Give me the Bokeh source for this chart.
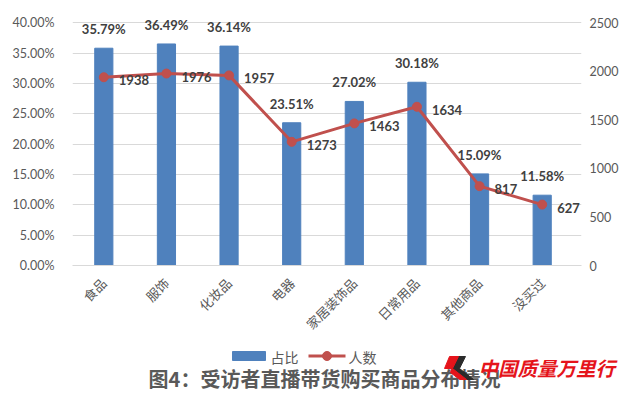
import math
from bokeh.plotting import figure
from bokeh.layouts import column, row
from bokeh.models import (Range1d, LinearAxis, PrintfTickFormatter, FixedTicker,
                          ColumnDataSource)
from bokeh.core.properties import value
from bokeh.embed import file_html
from bokeh.resources import INLINE

categories = ["食品", "服饰", "化妆品", "电器", "家居装饰品", "日常用品", "其他商品", "没买过"]
share_pct = [35.79, 36.49, 36.14, 23.51, 27.02, 30.18, 15.09, 11.58]
people = [1938, 1976, 1957, 1273, 1463, 1634, 817, 627]
left_ticks = [0, 5, 10, 15, 20, 25, 30, 35, 40]
right_ticks = [0, 500, 1000, 1500, 2000, 2500]
series_names = ["占比", "人数"]
chart_title = "图4：受访者直播带货购买商品分布情况"
watermark = "中国质量万里行"

share_labels = ["%.2f%%" % v for v in share_pct]
people_labels = [str(v) for v in people]
idx = list(range(len(categories)))

BLUE = "#4F81BD"
RED = "#C0504D"
GRID = "#D9D9D9"
TXT = "#595959"
LBL = "#404040"
WMRED = "#E5141B"
NUMFONT = "Lato"
CJK = "Noto Sans CJK SC"

# layout constants (pixels)
CAT_W = 62.625          # width of one category slot
PLOT_H = 243            # height from 0 to top tick
HEAD = 1.05             # headroom above the top tick (room for labels)
RIGHT_EXTRA = 8         # room on the right for the last value label
TOP = 10
BOTTOM = 79

src = ColumnDataSource(dict(x=idx, pct=share_pct, ppl=people,
                            pl=share_labels, nl=people_labels))

n = len(categories)
frame_h = round(PLOT_H * HEAD)
frame_w = round(CAT_W * n + RIGHT_EXTRA)
p_h = TOP + frame_h + BOTTOM
p = figure(width=619, height=p_h,
           x_range=Range1d(-0.5, n - 0.5 + RIGHT_EXTRA / CAT_W),
           y_range=Range1d(left_ticks[0], left_ticks[-1] * HEAD),
           output_backend="svg", toolbar_location=None,
           min_border_left=72, min_border_right=38, min_border_top=TOP, min_border_bottom=BOTTOM,
           frame_width=frame_w, frame_height=frame_h)
p.outline_line_color = None
p.extra_y_ranges = {"ppl": Range1d(right_ticks[0], right_ticks[-1] * HEAD)}

p.vbar(x="x", top="pct", width=0.29, color=BLUE, source=src)
p.text(x="x", y="pct", text="pl", source=src, y_offset=-19, text_align="center",
       text_baseline="middle", text_font=value(NUMFONT), text_font_style="bold",
       text_font_size="13px", text_color=LBL)

p.line(x="x", y="ppl", y_range_name="ppl", source=src, line_color=RED, line_width=3)
p.scatter(x="x", y="ppl", y_range_name="ppl", source=src, size=9,
          fill_color=RED, line_color=RED)
p.text(x="x", y="ppl", text="nl", y_range_name="ppl", source=src, x_offset=15, y_offset=3,
       text_align="left", text_baseline="middle", text_font=value(NUMFONT),
       text_font_style="bold", text_font_size="13px", text_color=LBL)

# axes
p.yaxis.formatter = PrintfTickFormatter(format="%.2f%%")
p.yaxis.ticker = FixedTicker(ticks=left_ticks)
ra = LinearAxis(y_range_name="ppl", ticker=FixedTicker(ticks=right_ticks))
p.add_layout(ra, "right")
for ax in p.yaxis:
    ax.axis_line_color = None
    ax.major_tick_line_color = None
    ax.minor_tick_line_color = None
    ax.major_label_text_font = NUMFONT
    ax.major_label_text_font_size = "12.5px"
    ax.major_label_text_color = TXT
p.yaxis[0].major_label_standoff = 12
ra.major_label_standoff = 2
p.xaxis.ticker = FixedTicker(ticks=idx)
p.xaxis.major_label_overrides = {i: c for i, c in zip(idx, categories)}
p.xaxis.axis_line_color = GRID
p.xaxis.major_tick_line_color = None
p.xaxis.minor_tick_line_color = None
p.xaxis.major_label_orientation = math.pi / 4
p.xaxis.major_label_text_font = CJK
p.xaxis.major_label_text_font_size = "13px"
p.xaxis.major_label_text_color = TXT
p.xaxis.major_label_standoff = 9
p.xgrid.grid_line_color = None
p.ygrid.grid_line_color = GRID
p.ygrid.ticker = FixedTicker(ticks=left_ticks)

# bottom strip: legend, title, watermark (coordinates = page pixels)
q_h = 398 - p_h
q = figure(width=619, height=q_h, frame_width=619, frame_height=q_h,
           x_range=Range1d(0, 619), y_range=Range1d(398, p_h),
           x_axis_location=None, y_axis_location=None,
           output_backend="svg", toolbar_location=None, min_border=0)
q.grid.visible = False
q.outline_line_color = None

# legend
q.quad(left=[232], right=[265], top=[351], bottom=[360], color=BLUE)
q.text(x=[270], y=[356], text=[series_names[0]], text_align="left", text_baseline="middle",
       text_font=value(CJK), text_font_size="14px", text_color=TXT)
q.line(x=[308, 345], y=[355.5, 355.5], line_color=RED, line_width=3)
q.scatter(x=[326.5], y=[355.5], size=9, fill_color=RED, line_color=RED)
q.text(x=[348], y=[356], text=[series_names[1]], text_align="left", text_baseline="middle",
       text_font=value(CJK), text_font_size="14px", text_color=TXT)

# title
q.text(x=[324], y=[378], text=[chart_title], text_align="center", text_baseline="middle",
       text_font=value(CJK), text_font_style="bold", text_font_size="20px", text_color=TXT)

# watermark logo
q.patch(x=[457, 465, 459, 473, 466, 451], y=[356, 356, 368, 379, 379, 368], color="#2B2B2B")
q.patch(x=[449, 458, 452, 466, 459, 450, 451, 444], y=[356, 356, 368, 379, 379, 372, 368, 368],
        color=WMRED)
q.text(x=[478], y=[367], text=[watermark], text_align="left", text_baseline="middle",
       text_font=value(CJK), text_font_style="bold italic", text_font_size="19.5px",
       text_color=WMRED)

layout = column(row(p), row(q), spacing=0)
open("out.html", "w").write(file_html(layout, INLINE))
